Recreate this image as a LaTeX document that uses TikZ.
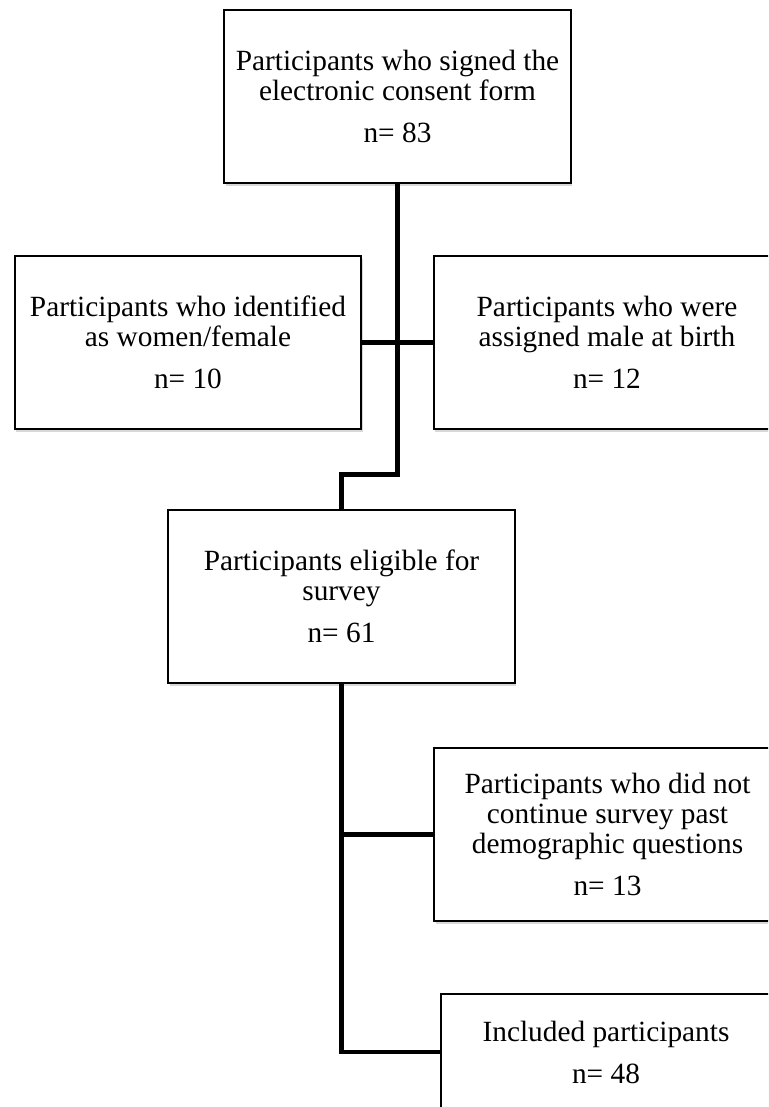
\documentclass[tikz,border=0pt]{standalone}
\usepackage{fontspec}
\setmainfont{Liberation Serif}
\usetikzlibrary{shadows}
\begin{document}
\begin{tikzpicture}[x=0.75pt,y=-0.75pt,
  box/.style={draw=black, line width=1.6pt, fill=white, align=center,
    minimum width=260pt, minimum height=130pt, inner sep=0pt,
    font=\fontsize{22pt}{22.5pt}\selectfont,
    drop shadow={shadow xshift=1.2pt, shadow yshift=-2pt, fill=black!30, opacity=0.5}},
  link/.style={line width=3.4pt, line join=miter, draw=black}]
\useasboundingbox (0,0) rectangle (768,1107);
\clip (0,0) rectangle (768,1107);
\node[box] (consent) at (397.5,96.5) {Participants who signed the\\electronic consent form\\[9pt]n= 83};
\node[box] (women) at (188,342.5) {Participants who identified\\as women/female\\[9pt]n= 10};
\node[box] (male) at (607,342.5) {Participants who were\\assigned male at birth\\[9pt]n= 12};
\node[box] (eligible) at (341.5,596.5) {Participants eligible for\\survey\\[9pt]n= 61};
\node[box] (dropped) at (607.5,834.5) {Participants who did not\\continue survey past\\demographic questions\\[9pt]n= 13};
\node[box, minimum width=247.5pt, minimum height=87pt] (included) at (606,1052) {Included participants\\[9pt]n= 48};
\draw[link] (consent.south) -- ++(0,290) -| (eligible.north);
\draw[link] (women.east) -- (male.west);
\draw[link] (eligible.south) |- (included.west);
\coordinate (branch) at (eligible.south |- dropped.west);
\draw[link] (branch) -- (dropped.west);
\end{tikzpicture}
\end{document}
